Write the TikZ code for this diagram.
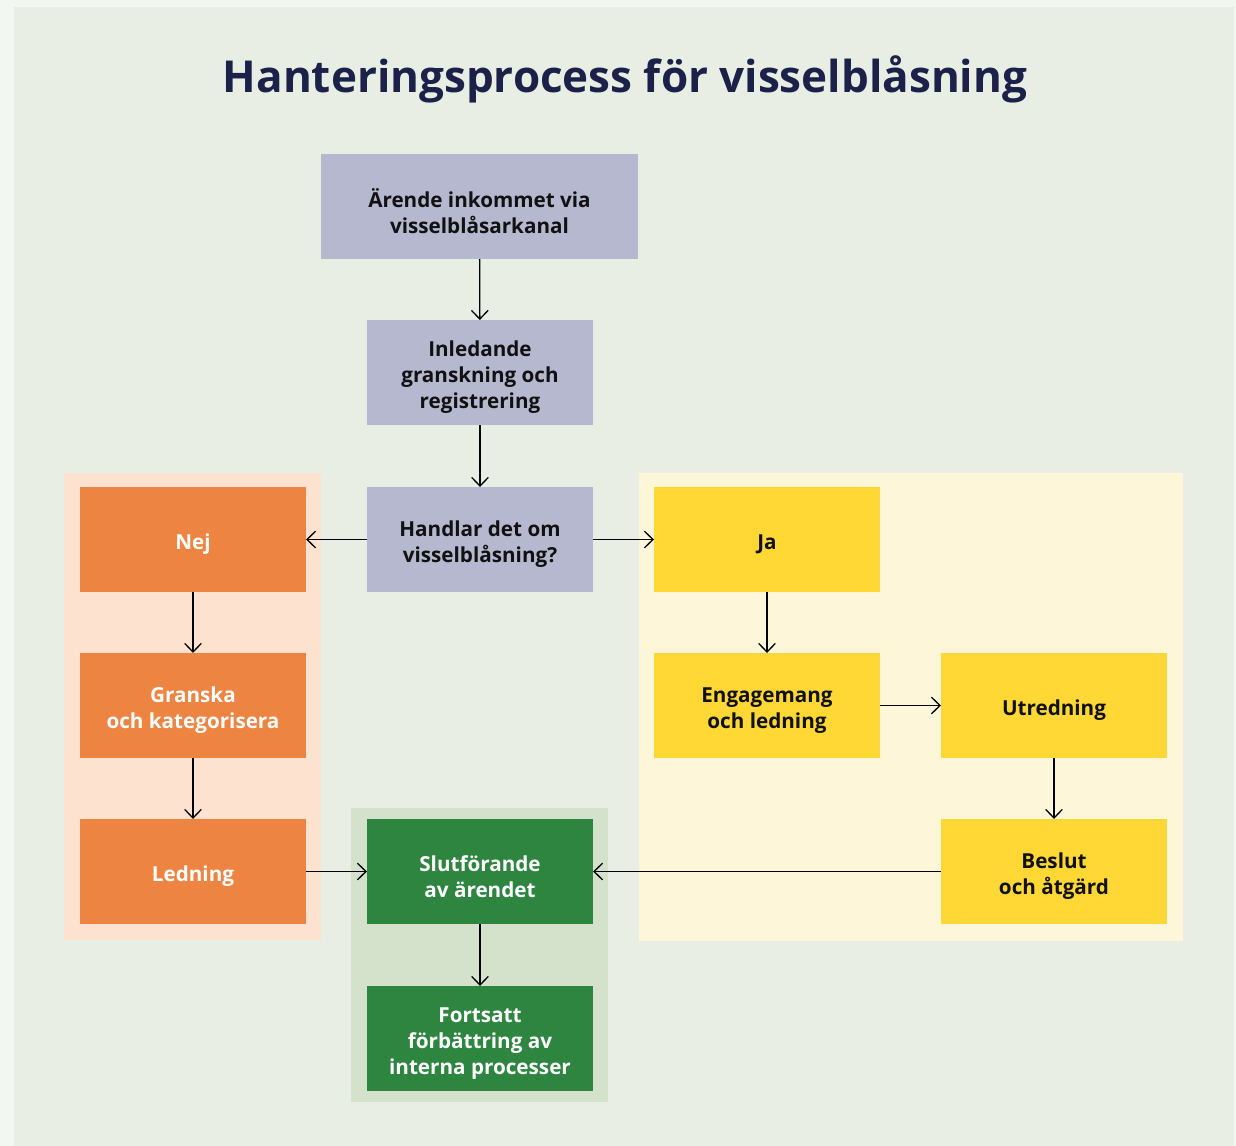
\documentclass[tikz,border=0pt]{standalone}
\usepackage{fontspec}
\setmainfont{Open Sans}
\usetikzlibrary{arrows.meta}
\definecolor{outerbg}{HTML}{F2F7F1}
\definecolor{innerbg}{HTML}{E8EEE3}
\definecolor{titlec}{HTML}{1B2148}
\definecolor{lav}{HTML}{B6B8CF}
\definecolor{orng}{HTML}{EE8442}
\definecolor{orngbg}{HTML}{FDE3CF}
\definecolor{yel}{HTML}{FFD836}
\definecolor{yelbg}{HTML}{FEF6D8}
\definecolor{grn}{HTML}{2E8540}
\definecolor{grnbg}{HTML}{D5E2CB}
\definecolor{ink}{HTML}{111111}
\tikzset{
  base/.style={rectangle, outer sep=0pt, inner sep=0pt,
    minimum width=169.5pt, minimum height=78.75pt},
  lavbox/.style={base, fill=lav},
  orbox/.style={base, fill=orng},
  yebox/.style={base, fill=yel},
  grbox/.style={base, fill=grn},
  txt/.style={align=center, inner sep=0pt, yshift=-3.75pt,
    font=\fontsize{15.5pt}{19.5pt}\selectfont\bfseries},
  dtxt/.style={txt, text=ink},
  wtxt/.style={txt, text=white},
  conn/.style={draw=black, line width=1pt, -{Straight Barb[length=6.5pt,width=12.5pt,line width=1pt]}},
}
\begin{document}
\begin{tikzpicture}[x=0.75pt,y=-0.75pt]
\useasboundingbox (0,0) rectangle (1236,1146);
\fill[outerbg] (0,0) rectangle (1236,1146);
\fill[innerbg] (14,7) rectangle (1234,1146);
% panels
\fill[orngbg] (64,473) rectangle (321,940);
\fill[yelbg] (639,473) rectangle (1183,941);
\fill[grnbg] (351,808) rectangle (608,1102);
% title
\node[text=titlec, font=\fontsize{33pt}{38pt}\selectfont\bfseries] (title) at (625,79) {Hanteringsprocess för visselblåsning};
% boxes
\node[lavbox, minimum width=237.75pt] (top) at (479.5,206.5) {};
\node[lavbox] (inl) at (480,372.5) {};
\node[lavbox] (han) at (480,539.5) {};
\node[orbox] (nej) at (193,539.5) {};
\node[orbox] (gra) at (193,705.5) {};
\node[orbox] (led) at (193,871.5) {};
\node[yebox] (ja) at (767,539.5) {};
\node[yebox] (eng) at (767,705.5) {};
\node[yebox] (utr) at (1054,705.5) {};
\node[yebox] (bes) at (1054,871.5) {};
\node[grbox] (slu) at (480,871.5) {};
\node[grbox] (for) at (480,1038.5) {};
% texts
\node[dtxt] (top-t) at (top.center) {Ärende inkommet via\\visselblåsarkanal};
\node[dtxt] (inl-t) at (inl.center) {Inledande\\granskning och\\registrering};
\node[dtxt] (han-t) at (han.center) {Handlar det om\\visselblåsning?};
\node[wtxt] (nej-t) at (nej.center) {Nej};
\node[wtxt] (gra-t) at (gra.center) {Granska\\och kategorisera};
\node[wtxt] (led-t) at (led.center) {Ledning};
\node[dtxt] (ja-t) at (ja.center) {Ja};
\node[dtxt] (eng-t) at (eng.center) {Engagemang\\och ledning};
\node[dtxt] (utr-t) at (utr.center) {Utredning};
\node[dtxt] (bes-t) at (bes.center) {Beslut\\och åtgärd};
\node[wtxt] (slu-t) at (slu.center) {Slutförande\\av ärendet};
\node[wtxt] (for-t) at (for.center) {Fortsatt\\förbättring av\\interna processer};
% connectors
\draw[conn] (top) -- (inl);
\draw[conn] (inl) -- (han);
\draw[conn] (han) -- (nej);
\draw[conn] (han) -- (ja);
\draw[conn] (nej) -- (gra);
\draw[conn] (gra) -- (led);
\draw[conn] (ja) -- (eng);
\draw[conn] (eng) -- (utr);
\draw[conn] (utr) -- (bes);
\draw[conn] (bes) -- (slu);
\draw[conn] (led) -- (slu);
\draw[conn] (slu) -- (for);
\end{tikzpicture}
\end{document}
